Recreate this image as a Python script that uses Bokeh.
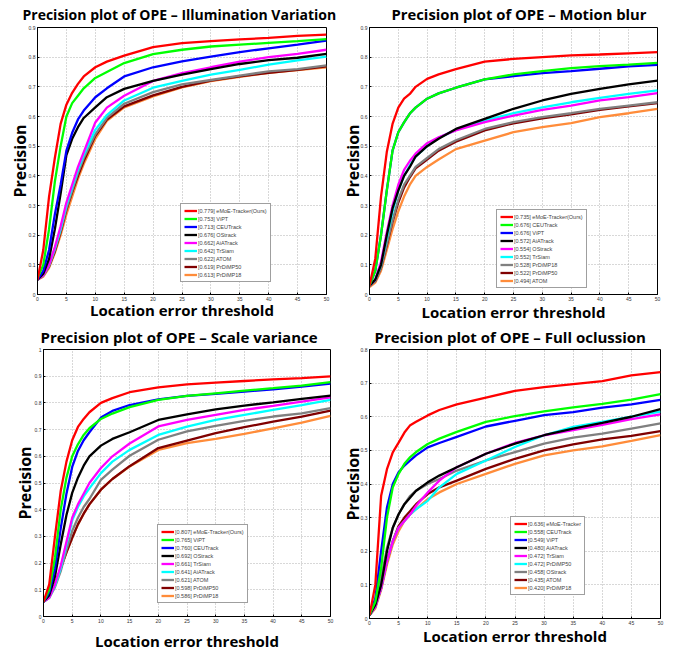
from bokeh.plotting import figure
from bokeh.models import FixedTicker, Legend, LegendItem, CustomJSTickFormatter
from bokeh.layouts import column, row
from bokeh.embed import file_html
from bokeh.resources import INLINE

# Location error thresholds (x) at which curves were read
X = [0, 1, 2, 3, 4, 5, 6, 7, 8, 10, 12, 15, 20, 25, 30, 35, 40, 45, 50]
X_TICKS = [0, 5, 10, 15, 20, 25, 30, 35, 40, 45, 50]

COLORS = ["#ff0000", "#00ff00", "#0000ff", "#000000", "#ff00ff",
          "#00ffff", "#808080", "#800000", "#ff8c3a"]

# ---- Panel 1: Illumination Variation ----
iv_labels = ["[0.779] eMoE-Tracker(Ours)", "[0.753] ViPT", "[0.713] CEUTrack",
             "[0.676] OStrack", "[0.662] AiATrack", "[0.642] TrSiam",
             "[0.622] ATOM", "[0.619] PrDiMP50", "[0.613] PrDiMP18"]
iv_red = [0.05, 0.15, 0.33, 0.46, 0.575, 0.64, 0.68, 0.71, 0.735, 0.766, 0.785, 0.805, 0.834, 0.847, 0.854, 0.86, 0.865, 0.872, 0.876]
iv_green = [0.055, 0.10, 0.22, 0.38, 0.50, 0.60, 0.645, 0.67, 0.695, 0.73, 0.75, 0.78, 0.81, 0.825, 0.836, 0.842, 0.848, 0.854, 0.861]
iv_blue = [0.05, 0.08, 0.15, 0.27, 0.37, 0.485, 0.545, 0.59, 0.62, 0.665, 0.695, 0.735, 0.766, 0.786, 0.802, 0.817, 0.83, 0.842, 0.856]
iv_black = [0.05, 0.07, 0.12, 0.22, 0.34, 0.47, 0.525, 0.564, 0.595, 0.631, 0.665, 0.693, 0.72, 0.741, 0.76, 0.777, 0.79, 0.798, 0.811]
iv_magenta = [0.05, 0.065, 0.10, 0.16, 0.23, 0.31, 0.37, 0.43, 0.48, 0.58, 0.63, 0.67, 0.72, 0.746, 0.766, 0.785, 0.80, 0.811, 0.825]
iv_cyan = [0.05, 0.065, 0.10, 0.155, 0.22, 0.30, 0.36, 0.42, 0.47, 0.555, 0.605, 0.654, 0.697, 0.72, 0.741, 0.757, 0.775, 0.789, 0.802]
iv_gray = [0.05, 0.065, 0.095, 0.15, 0.215, 0.29, 0.35, 0.41, 0.46, 0.54, 0.595, 0.643, 0.682, 0.708, 0.723, 0.738, 0.752, 0.76, 0.772]
iv_dred = [0.05, 0.065, 0.095, 0.145, 0.21, 0.285, 0.345, 0.40, 0.45, 0.535, 0.59, 0.634, 0.671, 0.70, 0.721, 0.735, 0.747, 0.757, 0.769]
iv_orange = [0.05, 0.06, 0.09, 0.14, 0.20, 0.27, 0.33, 0.39, 0.44, 0.525, 0.585, 0.631, 0.668, 0.698, 0.719, 0.734, 0.747, 0.756, 0.766]

# ---- Panel 2: Motion blur ----
mb_labels = ["[0.735] eMoE-Tracker(Ours)", "[0.676] CEUTrack", "[0.676] ViPT",
             "[0.572] AiATrack", "[0.554] OStrack", "[0.552] TrSiam",
             "[0.528] PrDiMP18", "[0.522] PrDiMP50", "[0.494] ATOM"]
mb_red = [0.03, 0.12, 0.33, 0.48, 0.575, 0.63, 0.66, 0.676, 0.70, 0.727, 0.742, 0.76, 0.785, 0.794, 0.80, 0.806, 0.809, 0.813, 0.817]
mb_green = [0.03, 0.08, 0.2, 0.35, 0.485, 0.547, 0.58, 0.61, 0.63, 0.66, 0.678, 0.697, 0.725, 0.742, 0.753, 0.763, 0.77, 0.775, 0.781]
mb_blue = [0.03, 0.08, 0.2, 0.35, 0.485, 0.547, 0.58, 0.61, 0.63, 0.66, 0.678, 0.697, 0.725, 0.736, 0.746, 0.753, 0.761, 0.769, 0.774]
mb_black = [0.03, 0.05, 0.10, 0.20, 0.29, 0.35, 0.40, 0.43, 0.465, 0.50, 0.525, 0.558, 0.592, 0.626, 0.654, 0.676, 0.693, 0.708, 0.721]
mb_magenta = [0.03, 0.05, 0.11, 0.21, 0.30, 0.37, 0.42, 0.45, 0.475, 0.51, 0.53, 0.553, 0.581, 0.603, 0.622, 0.637, 0.654, 0.665, 0.679]
mb_cyan = [0.03, 0.05, 0.10, 0.19, 0.28, 0.35, 0.40, 0.435, 0.465, 0.50, 0.528, 0.555, 0.587, 0.611, 0.631, 0.648, 0.663, 0.676, 0.688]
mb_gray = [0.03, 0.045, 0.09, 0.17, 0.25, 0.32, 0.37, 0.40, 0.43, 0.46, 0.49, 0.52, 0.558, 0.581, 0.598, 0.611, 0.626, 0.637, 0.648]
mb_dred = [0.03, 0.045, 0.09, 0.165, 0.245, 0.31, 0.36, 0.395, 0.425, 0.455, 0.485, 0.515, 0.553, 0.577, 0.594, 0.607, 0.622, 0.634, 0.645]
mb_orange = [0.025, 0.04, 0.08, 0.15, 0.22, 0.28, 0.33, 0.37, 0.40, 0.43, 0.455, 0.49, 0.519, 0.547, 0.564, 0.578, 0.598, 0.611, 0.626]

# ---- Panel 3: Scale variance ----
sv_labels = ["[0.807] eMoE-Tracker(Ours)", "[0.765] ViPT", "[0.760] CEUTrack",
             "[0.692] OStrack", "[0.661] TrSiam", "[0.641] AiATrack",
             "[0.621] ATOM", "[0.598] PrDiMP50", "[0.586] PrDiMP18"]
sv_red = [0.055, 0.12, 0.30, 0.47, 0.58, 0.66, 0.71, 0.74, 0.765, 0.80, 0.818, 0.84, 0.858, 0.869, 0.876, 0.882, 0.888, 0.893, 0.899]
sv_green = [0.055, 0.10, 0.22, 0.40, 0.52, 0.60, 0.645, 0.68, 0.705, 0.74, 0.76, 0.784, 0.811, 0.826, 0.836, 0.846, 0.855, 0.865, 0.878]
sv_blue = [0.055, 0.09, 0.18, 0.33, 0.46, 0.56, 0.62, 0.66, 0.69, 0.745, 0.77, 0.792, 0.813, 0.826, 0.834, 0.842, 0.851, 0.861, 0.872]
sv_black = [0.055, 0.08, 0.15, 0.27, 0.38, 0.463, 0.52, 0.565, 0.60, 0.64, 0.665, 0.69, 0.736, 0.757, 0.776, 0.79, 0.802, 0.815, 0.827]
sv_magenta = [0.055, 0.07, 0.12, 0.19, 0.28, 0.37, 0.42, 0.46, 0.50, 0.556, 0.60, 0.648, 0.712, 0.736, 0.755, 0.774, 0.789, 0.805, 0.821]
sv_cyan = [0.055, 0.07, 0.115, 0.18, 0.27, 0.36, 0.41, 0.45, 0.48, 0.537, 0.58, 0.624, 0.68, 0.711, 0.736, 0.755, 0.774, 0.792, 0.811]
sv_gray = [0.055, 0.07, 0.11, 0.17, 0.25, 0.32, 0.37, 0.41, 0.44, 0.512, 0.55, 0.602, 0.662, 0.693, 0.714, 0.733, 0.749, 0.761, 0.78]
sv_dred = [0.055, 0.08, 0.12, 0.18, 0.24, 0.295, 0.345, 0.385, 0.42, 0.475, 0.515, 0.563, 0.631, 0.659, 0.687, 0.709, 0.73, 0.749, 0.771]
sv_orange = [0.055, 0.08, 0.12, 0.18, 0.24, 0.295, 0.345, 0.385, 0.42, 0.475, 0.515, 0.562, 0.624, 0.649, 0.665, 0.684, 0.705, 0.726, 0.751]

# ---- Panel 4: Full oclussion ----
fo_labels = ["[0.636] eMoE-Tracker", "[0.558] CEUTrack", "[0.549] ViPT",
             "[0.480] AiATrack", "[0.472] TrSiam", "[0.472] PrDiMP50",
             "[0.458] OStrack", "[0.435] ATOM", "[0.420] PrDiMP18"]
fo_red = [0.01, 0.10, 0.365, 0.444, 0.494, 0.523, 0.553, 0.575, 0.585, 0.604, 0.62, 0.637, 0.657, 0.677, 0.688, 0.697, 0.706, 0.723, 0.733]
fo_green = [0.01, 0.05, 0.15, 0.30, 0.39, 0.43, 0.46, 0.48, 0.495, 0.519, 0.535, 0.555, 0.585, 0.602, 0.616, 0.628, 0.638, 0.651, 0.667]
fo_blue = [0.01, 0.06, 0.20, 0.33, 0.40, 0.435, 0.455, 0.47, 0.485, 0.509, 0.522, 0.54, 0.571, 0.588, 0.605, 0.614, 0.627, 0.637, 0.65]
fo_black = [0.01, 0.04, 0.10, 0.20, 0.27, 0.31, 0.34, 0.36, 0.38, 0.405, 0.425, 0.45, 0.49, 0.52, 0.545, 0.565, 0.582, 0.60, 0.623]
fo_magenta = [0.01, 0.035, 0.09, 0.17, 0.23, 0.27, 0.29, 0.31, 0.335, 0.375, 0.41, 0.45, 0.49, 0.522, 0.545, 0.56, 0.576, 0.593, 0.607]
fo_cyan = [0.01, 0.035, 0.09, 0.17, 0.23, 0.27, 0.29, 0.31, 0.325, 0.35, 0.39, 0.43, 0.47, 0.51, 0.545, 0.57, 0.585, 0.60, 0.615]
fo_gray = [0.01, 0.04, 0.12, 0.21, 0.27, 0.31, 0.34, 0.365, 0.38, 0.40, 0.415, 0.44, 0.47, 0.495, 0.52, 0.538, 0.55, 0.565, 0.58]
fo_dred = [0.01, 0.035, 0.09, 0.17, 0.23, 0.275, 0.30, 0.32, 0.34, 0.37, 0.39, 0.41, 0.445, 0.475, 0.50, 0.518, 0.533, 0.543, 0.557]
fo_orange = [0.01, 0.03, 0.085, 0.16, 0.22, 0.26, 0.29, 0.31, 0.325, 0.355, 0.375, 0.40, 0.43, 0.46, 0.485, 0.50, 0.512, 0.528, 0.545]

X_LABEL = "Location error threshold"
Y_LABEL = "Precision"
FONT = "Open Sans"


def make_panel(title, ymax, series, labels, legend_xy, frame, borders,
               title_size, title_offset, title_standoff, xlab_standoff, ylab_standoff):
    fw, fh = frame
    bl, br, bt, bb = borders
    p = figure(frame_width=fw, frame_height=fh, x_range=(0, 50), y_range=(0, ymax),
               output_backend="svg", toolbar_location=None,
               min_border_left=bl, min_border_right=br,
               min_border_top=bt, min_border_bottom=bb)
    p.title.text = title
    p.title.align = "left"
    p.title.offset = title_offset
    p.title.standoff = title_standoff
    p.title.vertical_align = "top"
    p.title.text_font = FONT
    p.title.text_font_style = "bold"
    p.title.text_font_size = title_size
    p.title.text_color = "black"

    nt = int(round(ymax * 10))
    yt = [round(i / 10, 1) for i in range(nt + 1)]
    p.xaxis.ticker = FixedTicker(ticks=X_TICKS)
    p.yaxis.ticker = FixedTicker(ticks=yt)
    p.yaxis.formatter = CustomJSTickFormatter(code="return (Math.round(tick*10)/10).toString();")
    for ax in (p.xaxis[0], p.yaxis[0]):
        ax.major_label_text_font_size = "5px"
        ax.major_label_text_font = "Liberation Sans"
        ax.major_label_text_color = "#333333"
        ax.major_tick_in = 2
        ax.major_tick_out = 0
        ax.minor_tick_line_color = None
        ax.major_label_standoff = 2
        ax.axis_label_text_font = FONT
        ax.axis_label_text_font_style = "bold"
        ax.axis_label_text_color = "black"
    p.xaxis.axis_label = X_LABEL
    p.xaxis.axis_label_text_font_size = "15px"
    p.xaxis.axis_label_standoff = xlab_standoff
    p.yaxis.axis_label = Y_LABEL
    p.yaxis.axis_label_text_font_size = "16px"
    p.yaxis.axis_label_standoff = ylab_standoff

    p.outline_line_color = "black"
    p.outline_line_width = 1
    p.grid.grid_line_color = "#b0b0b0"
    p.grid.grid_line_dash = "1 2"
    p.grid.grid_line_width = 1

    renderers = []
    for ys, c in zip(series, COLORS):
        renderers.append(p.line(X, ys, line_color=c, line_width=2.3))
    # keep the first series drawn on top
    p.renderers = list(reversed(p.renderers))

    items = [LegendItem(label=lab, renderers=[r]) for lab, r in zip(labels, renderers)]
    leg = Legend(items=items, location=legend_xy)
    leg.label_text_font = "Liberation Sans"
    leg.label_text_font_size = "5.5px"
    leg.label_height = 7
    leg.glyph_height = 7
    leg.glyph_width = 13
    leg.label_standoff = 1
    leg.spacing = 1
    leg.padding = 3
    leg.margin = 0
    leg.border_line_color = "#404040"
    leg.border_line_width = 1
    leg.background_fill_alpha = 1
    p.add_layout(leg, "center")
    return p


p1 = make_panel("Precision plot of OPE \u2013 Illumination Variation", 0.9,
                [iv_red, iv_green, iv_blue, iv_black, iv_magenta, iv_cyan, iv_gray, iv_dred, iv_orange],
                iv_labels, (143, 12), (289, 267), (37, 12, 27, 31),
                "14px", -15, 3, -4, -5)
p2 = make_panel("Precision plot of OPE \u2013 Motion blur", 0.9,
                [mb_red, mb_green, mb_blue, mb_black, mb_magenta, mb_cyan, mb_gray, mb_dred, mb_orange],
                mb_labels, (127, 6), (288, 267), (30, 19, 27, 31),
                "14.8px", 22, 3, -2, -6)
p3 = make_panel("Precision plot of OPE \u2013 Scale variance", 1.0,
                [sv_red, sv_green, sv_blue, sv_black, sv_magenta, sv_cyan, sv_gray, sv_dred, sv_orange],
                sv_labels, (114, 13), (287, 267), (43, 8, 23, 32),
                "15px", -3, 1, 5, -4)
p4 = make_panel("Precision plot of OPE \u2013 Full oclussion", 0.8,
                [fo_red, fo_green, fo_blue, fo_black, fo_magenta, fo_cyan, fo_gray, fo_dred, fo_orange],
                fo_labels, (141, 23), (291, 269), (30, 16, 24, 29),
                "15px", 5, 1, -2, -6)

layout = column(row(p1, p2), row(p3, p4))

html = file_html(layout, INLINE, "Precision plots")
open("out.html", "w").write(html)
